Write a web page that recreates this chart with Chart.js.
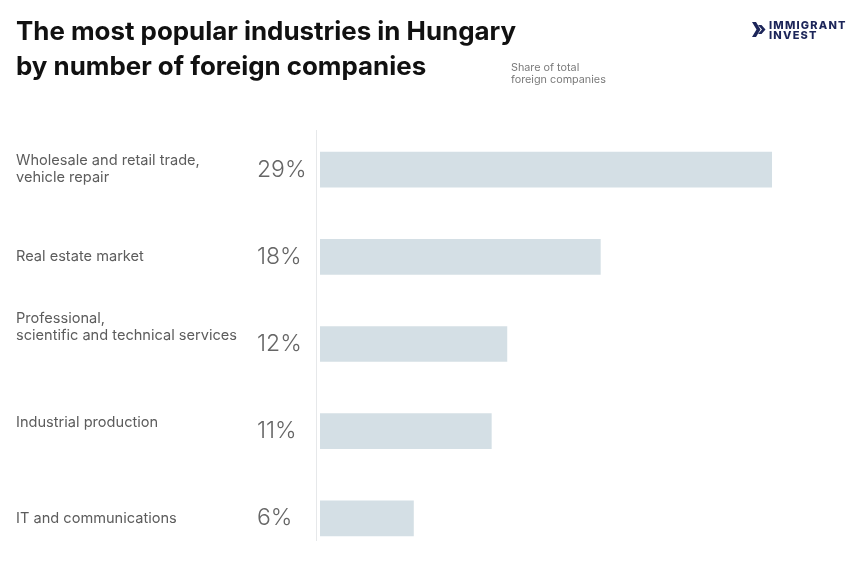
<!DOCTYPE html>
<html>
<head>
<meta charset="utf-8">
<script src="https://cdn.jsdelivr.net/npm/chart.js@4.4.1/dist/chart.umd.min.js"></script>
<style>
  html, body { margin: 0; padding: 0; background: #fff; }
  #wrap { position: relative; width: 858px; height: 584px; overflow: hidden; font-family: Inter, "Open Sans", sans-serif; }
  #chart { position: absolute; left: 0; top: 0; }
  .title { position: absolute; left: 16px; font-weight: 700; font-size: 25.9px; line-height: normal; color: #111; white-space: nowrap; }
  #t1 { top: 14.6px; }
  #t2 { top: 49.6px; }
  #sub { position: absolute; left: 511px; top: 61.5px; font-size: 10.8px; line-height: 12.5px; color: #7a7a7a; white-space: nowrap; }
  #logoIcon { position: absolute; left: 752px; top: 22px; }
  #logoTxt { position: absolute; left: 769px; top: 20px; font-weight: 800; font-size: 11px; line-height: 10px; color: #1c2559; letter-spacing: 1.2px; white-space: nowrap; }
</style>
</head>
<body>
<div id="wrap">
  <canvas id="chart" width="858" height="584"></canvas>
  <div class="title" id="t1">The most popular industries in Hungary</div>
  <div class="title" id="t2">by number of foreign companies</div>
  <div id="sub">Share of total<br>foreign companies</div>
  <svg id="logoIcon" width="14" height="15" viewBox="0 0 14 15">
    <path d="M0 0 L4 0 L8.5 7.5 L4 15 L0 15 L4.5 7.5 Z" fill="#1c2559"/>
    <path d="M6 3 L9.5 3 L13.5 7.5 L9.5 12 L6 12 L10 7.5 Z" fill="#1c2559"/>
  </svg>
  <div id="logoTxt">IMMIGRANT<br>INVEST</div>
</div>
<script>
const categories = [
  ["Wholesale and retail trade,", "vehicle repair"],
  "Real estate market",
  ["Professional,", "scientific and technical services", "", ""],
  ["Industrial production", ""],
  "IT and communications"
];
const shares = [29, 18, 12, 11, 6];
const shareLabels = shares.map(v => v + "%");

const axisLine = {
  id: "axisLine",
  beforeDatasetsDraw(chart) {
    const { ctx, chartArea } = chart;
    ctx.save();
    ctx.strokeStyle = "#e6e8ea";
    ctx.lineWidth = 1;
    ctx.beginPath();
    ctx.moveTo(chartArea.left - 3.5, chartArea.top + 4);
    ctx.lineTo(chartArea.left - 3.5, chartArea.bottom - 21);
    ctx.stroke();
    ctx.restore();
  }
};

new Chart(document.getElementById("chart"), {
  type: "bar",
  data: {
    labels: categories,
    datasets: [{
      data: shares,
      backgroundColor: "#d4dfe5",
      borderWidth: 0,
      barThickness: 35
    }]
  },
  options: {
    indexAxis: "y",
    responsive: false,
    animation: false,
    devicePixelRatio: 1,
    layout: { padding: { left: 16, right: 24, top: 126, bottom: 22 } },
    plugins: { legend: { display: false }, tooltip: { enabled: false } },
    scales: {
      x: { display: false, min: 0, max: 33 },
      y: {
        position: "left",
        weight: 2,
        offset: true,
        grid: { display: false },
        border: { display: false },
        ticks: {
          crossAlign: "far",
          autoSkip: false,
          color: "#5c5c5c",
          font: { family: "Inter", size: 14.6, lineHeight: "17px" }
        },
        afterFit(s) { s.width = 241; }
      },
      yPct: {
        type: "category",
        labels: shareLabels,
        position: "left",
        weight: 1,
        offset: true,
        grid: { display: false },
        border: { display: false },
        ticks: {
          crossAlign: "far",
          autoSkip: false,
          color: "#666",
          font: { family: "Inter", size: 23, weight: 300 }
        },
        afterFit(s) { s.width = 63; }
      }
    }
  },
  plugins: [axisLine]
});
</script>
</body>
</html>
